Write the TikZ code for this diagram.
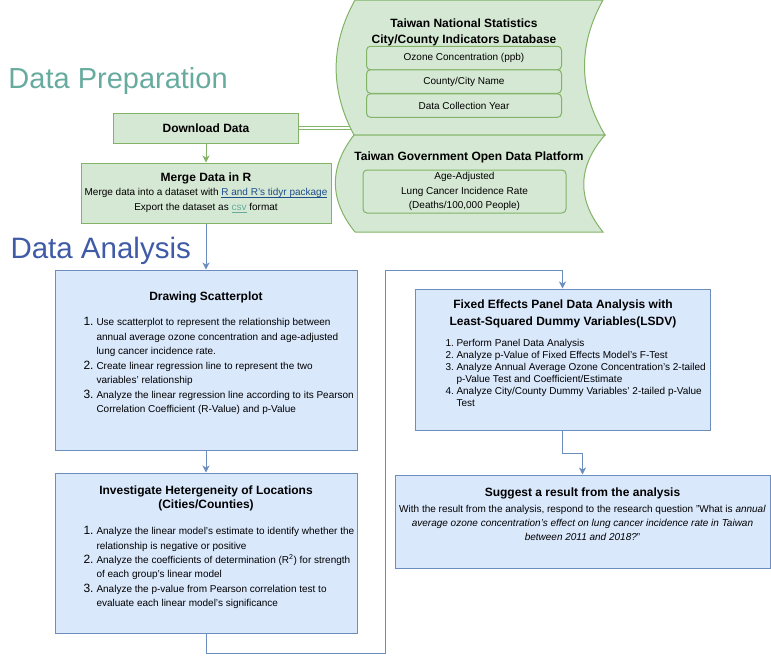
\documentclass[tikz,border=0pt]{standalone}
\usepackage{fontspec}
\setmainfont{Liberation Sans}
\usetikzlibrary{arrows.meta}
\definecolor{prepfill}{HTML}{D5E8D4}
\definecolor{prepline}{HTML}{82B366}
\definecolor{anafill}{HTML}{DAE8FC}
\definecolor{analine}{HTML}{6C8EBF}
\definecolor{preptitle}{HTML}{67AB9F}
\definecolor{anatitle}{HTML}{3F5AA6}
\definecolor{linkblue}{HTML}{1F4E8C}
\newcommand{\lnum}[1]{\makebox[13pt][l]{\fontsize{12}{14}\selectfont #1}}
\newcommand{\lcont}{\hspace*{13pt}}
\newcommand{\snum}[1]{\makebox[11pt][l]{#1}}
\newcommand{\scont}{\hspace*{11pt}}
\newlength{\ulinkwd}
\newcommand{\ulink}[1]{\settowidth{\ulinkwd}{#1}\rlap{\rule[-1.6pt]{\ulinkwd}{0.6pt}}#1}
\begin{document}
\begin{tikzpicture}[x=1pt,y=-1pt,line width=1pt,font=\fontsize{10}{14}\selectfont,
  prepbox/.style={draw=prepline,fill=prepfill,inner sep=0pt},
  anabox/.style={draw=analine,fill=anafill,inner sep=0pt},
  rowbox/.style={draw=prepline,fill=prepfill,rounded corners=4pt,minimum width=195pt,minimum height=23.5pt,inner sep=0pt},
  boxtitle/.style={font=\fontsize{12}{16}\selectfont\bfseries,align=center,inner sep=0pt},
  listtext/.style={align=left,inner sep=0pt,anchor=north west},
  greenarrow/.style={draw=prepline,-{Stealth[length=7pt,width=7pt,inset=2pt]}},
  bluearrow/.style={draw=analine,-{Stealth[length=7pt,width=7pt,inset=2pt]}}]
\useasboundingbox (0,0) rectangle (771,662);
% section headings
\node[anchor=base west,inner sep=0pt,text=preptitle,font=\fontsize{29}{32}\selectfont] (prephead) at (8,88) {Data Preparation};
\node[anchor=base west,inner sep=0pt,text=anatitle,font=\fontsize{29.5}{32}\selectfont] (anahead) at (10,258) {Data Analysis};
% preparation
\node[prepbox,minimum width=185pt,minimum height=30pt,font=\fontsize{12}{14}\selectfont\bfseries] (download) at (206,128) {Download Data};
\coordinate (sources) at (353,128);
\draw[prepline,double=white,double distance=2.5pt] (download.east) -- (sources);
\draw[prepline,fill=prepfill] (355,0) .. controls (330,45) and (330,90) .. (354,135)
  -- (605,135) .. controls (578,90) and (578,45) .. (603,0) -- cycle;
\draw[prepline,fill=prepfill] (354,135) .. controls (329,167) and (329,200) .. (355,232)
  -- (603,232) .. controls (577,200) and (577,167) .. (605,135) -- cycle;
\node[boxtitle] (natstat) at (464,32) {Taiwan National Statistics\\City/County Indicators Database};
\foreach \y/\n/\t in {58/ozone/{Ozone Concentration (ppb)},81.5/county/{County/City Name},105.5/year/{Data Collection Year}}
  \node[rowbox] (\n) at (464,\y) {\t};
\node[boxtitle] (opendata) at (469,157) {Taiwan Government Open Data Platform};
\node[rowbox,minimum width=203pt,minimum height=43pt,align=center,font=\fontsize{10}{14.5}\selectfont] (lungrate) at (464.5,191.5) {Age-Adjusted\\Lung Cancer Incidence Rate\\(Deaths/100,000 People)};
\node[prepbox,minimum width=250pt,minimum height=60pt] (merge) at (206,193) {};
\node[boxtitle] (mergetitle) at (206,178) {Merge Data in R};
\node[align=center,inner sep=0pt,font=\fontsize{10}{15}\selectfont] (mergetext) at (206,200.5) {Merge data into a dataset with \textcolor{linkblue}{\ulink{R and R's tidyr package}}\\Export the dataset as \textcolor{preptitle}{\ulink{csv}} format};
\draw[greenarrow] (download) -- (merge);
% analysis
\node[anabox,minimum width=302pt,minimum height=180pt] (scatter) at (206,360) {};
\node[boxtitle] (scattertitle) at (206,297) {Drawing Scatterplot};
\node[listtext,font=\fontsize{10}{14.5}\selectfont] (scatterlist) at (83,317) {\lnum{1.}Use scatterplot to represent the relationship between\\
\lcont annual average ozone concentration and age-adjusted\\
\lcont lung cancer incidence rate.\\
\lnum{2.}Create linear regression line to represent the two\\
\lcont variables' relationship\\
\lnum{3.}Analyze the linear regression line according to its Pearson\\
\lcont Correlation Coefficient (R-Value) and p-Value};
\node[anabox,minimum width=302pt,minimum height=160pt] (hetero) at (206,553) {};
\node[boxtitle,font=\fontsize{12}{14}\selectfont\bfseries] (heterotitle) at (206,498) {Investigate Hetergeneity of Locations\\(Cities/Counties)};
\node[listtext,font=\fontsize{10}{14.4}\selectfont] (heterolist) at (83,526) {\lnum{1.}Analyze the linear model's estimate to identify whether the\\
\lcont relationship is negative or positive\\
\lnum{2.}Analyze the coefficients of determination (R\textsuperscript{2}) for strength\\
\lcont of each group's linear model\\
\lnum{3.}Analyze the p-value from Pearson correlation test to\\
\lcont evaluate each linear model's significance};
\node[anabox,minimum width=295pt,minimum height=141pt] (lsdv) at (562.5,359.5) {};
\node[boxtitle,font=\fontsize{12}{17}\selectfont\bfseries] (lsdvtitle) at (563,313.5) {Fixed Effects Panel Data Analysis with\\Least-Squared Dummy Variables(LSDV)};
\node[listtext,font=\fontsize{10}{12}\selectfont] (lsdvlist) at (445,339) {\snum{1.}Perform Panel Data Analysis\\
\snum{2.}Analyze p-Value of Fixed Effects Model's F-Test\\
\snum{3.}Analyze Annual Average Ozone Concentration's 2-tailed\\
\scont p-Value Test and Coefficient/Estimate\\
\snum{4.}Analyze City/County Dummy Variables' 2-tailed p-Value\\
\scont Test};
\node[anabox,minimum width=375pt,minimum height=93pt] (suggest) at (582.5,521.5) {};
\node[boxtitle] (suggesttitle) at (582.5,493) {Suggest a result from the analysis};
\node[align=center,inner sep=0pt] (suggesttext) at (582.5,523) {With the result from the analysis, respond to the research question "What is \textit{annual}\\
\textit{average ozone concentration's effect on lung cancer incidence rate in Taiwan}\\
\textit{between 2011 and 2018?}"};
\draw[bluearrow] (merge) -- (scatter);
\draw[bluearrow] (scatter) -- (hetero);
\draw[bluearrow] (hetero.south) -- (206,653) -- (385,653) -- (385,270) -- (lsdv.north |- 0,270) -- (lsdv.north);
\draw[bluearrow] (lsdv.south) -- (562.5,453) -- (suggest.north |- 0,453) -- (suggest.north);
\end{tikzpicture}
\end{document}
